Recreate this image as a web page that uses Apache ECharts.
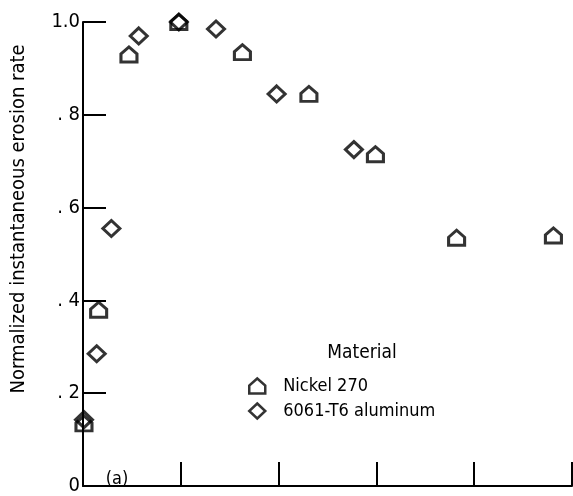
<!DOCTYPE html>
<html><head><meta charset="utf-8">
<script src="https://cdn.jsdelivr.net/npm/echarts@6/dist/echarts.min.js"></script>
<style>html,body{margin:0;padding:0;background:#fff}#c{width:573px;height:496px}</style>
</head><body><div id="c"></div>
<script>
const nickelX = [0.01, 0.16, 0.47, 0.98, 1.63, 2.31, 2.99, 3.82, 4.81];
const nickelY = [0.135, 0.38, 0.93, 1.0, 0.935, 0.845, 0.715, 0.535, 0.54];
const aluminumX = [0.01, 0.14, 0.29, 0.57, 0.98, 1.36, 1.98, 2.77];
const aluminumY = [0.143, 0.285, 0.555, 0.97, 1.0, 0.985, 0.845, 0.725];
const yTickLabels = {'0':'0','0.2':'. 2','0.4':'. 4','0.6':'. 6','0.8':'. 8','1':'1.0'};
const seriesNames = ['Nickel 270', '6061-T6 aluminum'];
const legendTitle = 'Material';
const yTitle = 'Normalized instantaneous erosion rate';
const panelLabel = '(a)';

const FONT = '"DejaVu Sans Condensed", "Liberation Sans Narrow", sans-serif';
const house = 'path://M0,15 L0,7 L8,0 L16,7 L16,15 Z';

const chart = echarts.init(document.getElementById('c'));
chart.setOption({
  animation: false,
  grid: {left: 83, right: 1, top: 22, bottom: 5},
  xAxis: {
    type: 'value', min: 0, max: 5, interval: 1,
    axisLine: {lineStyle: {color: '#000', width: 2}},
    axisTick: {inside: true, length: 24, lineStyle: {color: '#000', width: 2}},
    axisLabel: {show: false},
    splitLine: {show: false}
  },
  yAxis: {
    type: 'value', min: 0, max: 1, interval: 0.2,
    axisLine: {lineStyle: {color: '#000', width: 2}},
    axisTick: {inside: true, length: 23, lineStyle: {color: '#000', width: 2}},
    axisLabel: {margin: 3, color: '#000', fontFamily: FONT, fontSize: 20,
      formatter: v => yTickLabels[String(+v.toFixed(1))] },
    splitLine: {show: false}
  },
  legend: {
    orient: 'vertical', left: 248, top: 377, padding: 0, itemGap: 7,
    itemWidth: 16, itemHeight: 15,
    itemStyle: {borderWidth: 2.5, borderColor: '#000', color: 'rgba(0,0,0,0)'},
    textStyle: {fontFamily: FONT, fontSize: 18, color: '#000', padding: [0,0,0,13]},
    data: seriesNames
  },
  graphic: [
    {type: 'text', x: 19, y: 219, rotation: Math.PI/2,
     style: {text: yTitle, fontFamily: FONT, fontSize: 20, fill: '#000', align: 'center', verticalAlign: 'middle'}},
    {type: 'text', x: 362, y: 353,
     style: {text: legendTitle, fontFamily: FONT, fontSize: 19, fill: '#000', align: 'center', verticalAlign: 'middle'}},
    {type: 'text', x: 117, y: 479,
     style: {text: panelLabel, fontFamily: FONT, fontSize: 18, fill: '#000', align: 'center', verticalAlign: 'middle'}}
  ],
  series: [
    {name: seriesNames[0], type: 'scatter', symbol: house, symbolSize: [16, 15],
     itemStyle: {color: 'rgba(0,0,0,0)', borderColor: '#000', borderWidth: 3},
     data: nickelX.map((x, i) => [x, nickelY[i]])},
    {name: seriesNames[1], type: 'scatter', symbol: 'diamond', symbolSize: [17, 16],
     itemStyle: {color: 'rgba(0,0,0,0)', borderColor: '#000', borderWidth: 3},
     data: aluminumX.map((x, i) => [x, aluminumY[i]])}
  ]
});
</script></body></html>
